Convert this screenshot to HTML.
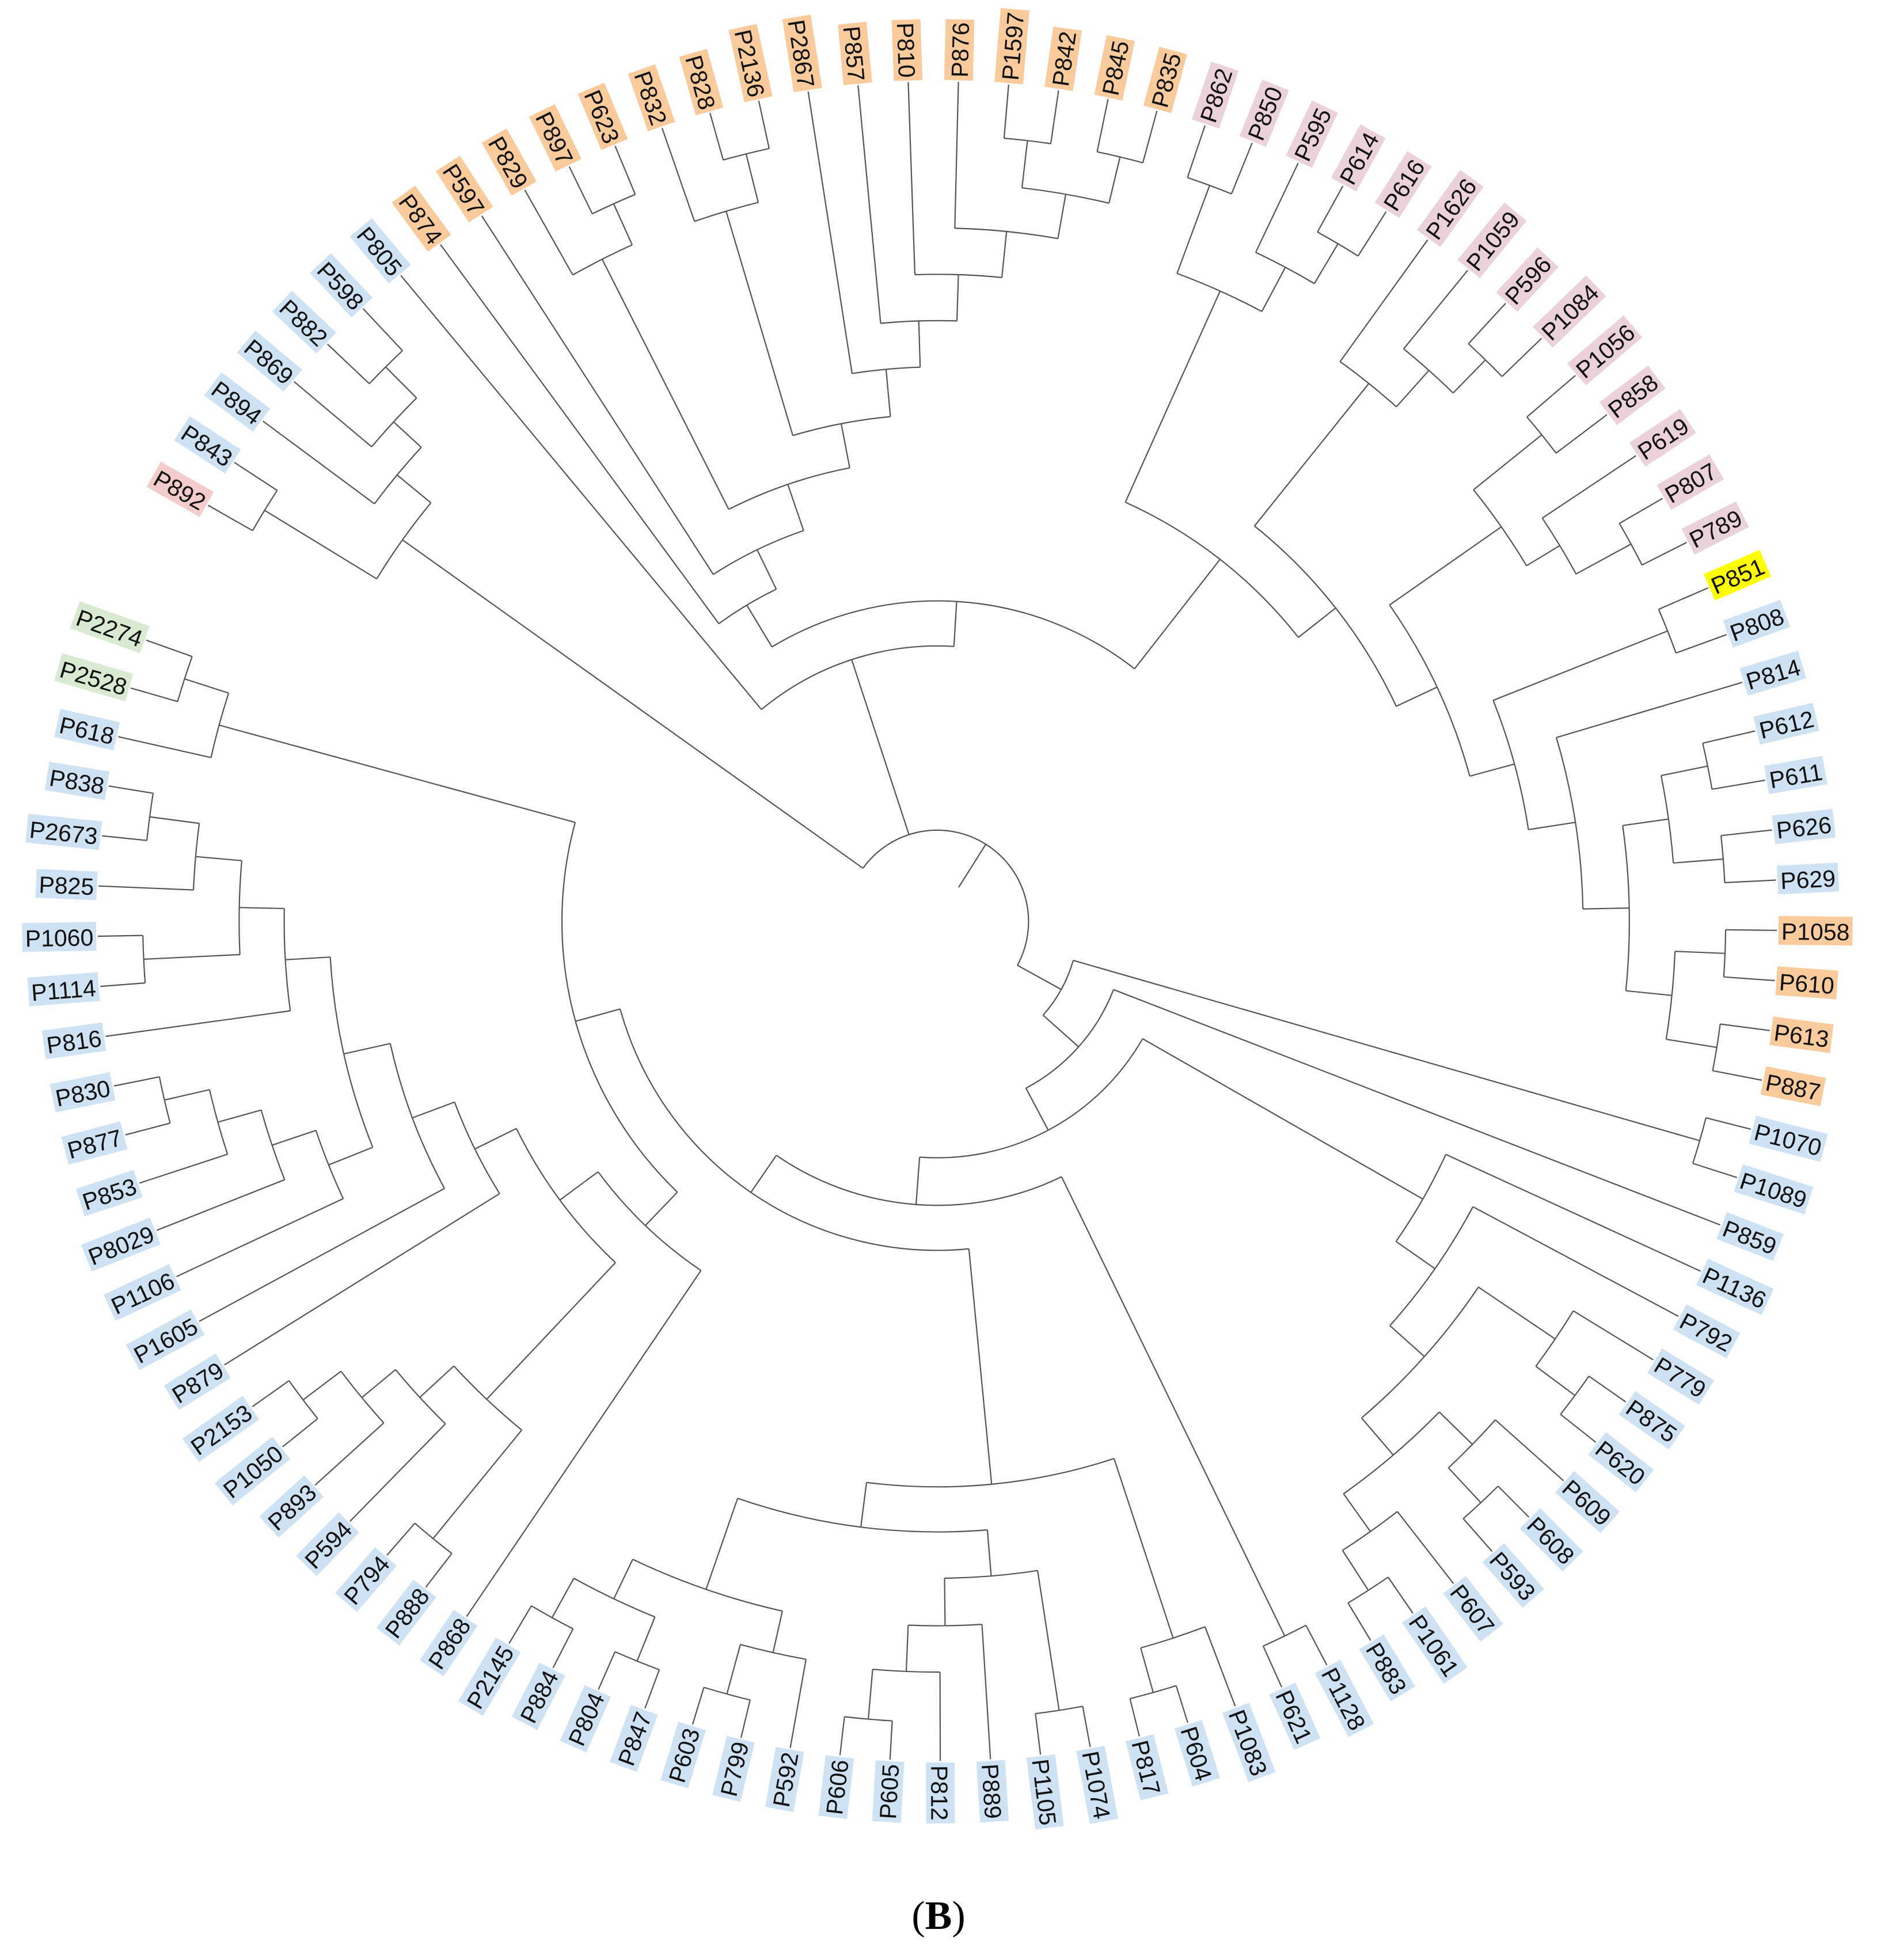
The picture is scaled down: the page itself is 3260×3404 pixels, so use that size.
<!DOCTYPE html>
<html>
<head>
<meta charset="utf-8">
<style>
  html, body { margin:0; padding:0; background:#ffffff; }
  body { width:3260px; height:3404px; overflow:hidden; }
  svg { display:block; }
  .lbl { font-family:"Liberation Sans", sans-serif; font-size:41px; fill:#111; }
  .cap { font-family:"Liberation Serif", serif; font-size:70px; fill:#000; }
</style>
</head>
<body>
<svg id="chart" width="3260" height="3404" viewBox="0 0 3260 3404" xmlns="http://www.w3.org/2000/svg">
  <rect x="0" y="0" width="3260" height="3404" fill="#ffffff"></rect>
  <g id="branches"></g>
  <g id="labels"></g>
  <text class="cap" x="1630" y="3350" text-anchor="middle">(<tspan font-weight="bold">B</tspan>)</text>
</svg>
<script>
// ---- data ----
const leafNames = ["P892","P843","P894","P869","P882","P598","P805","P874","P597","P829","P897","P623","P832","P828","P2136","P2867","P857","P810","P876","P1597","P842","P845","P835","P862","P850","P595","P614","P616","P1626","P1059","P596","P1084","P1056","P858","P619","P807","P789","P851","P808","P814","P612","P611","P626","P629","P1058","P610","P613","P887","P1070","P1089","P859","P1136","P792","P779","P875","P620","P609","P608","P593","P607","P1061","P883","P1128","P621","P1083","P604","P817","P1074","P1105","P889","P812","P605","P606","P592","P799","P603","P847","P804","P884","P2145","P868","P888","P794","P594","P893","P1050","P2153","P879","P1605","P1106","P8029","P853","P877","P830","P816","P1114","P1060","P825","P2673","P838","P618","P2528","P2274"];
const orangeLeaves = ["P874","P597","P829","P897","P623","P832","P828","P2136","P2867","P857","P810","P876","P1597","P842","P845","P835","P1058","P610","P613","P887"];
const pinkLeaves = ["P862","P850","P595","P614","P616","P1626","P1059","P596","P1084","P1056","P858","P619","P807","P789"];
const greenLeaves = ["P2274","P2528"];
const redLeaves = ["P892"];
const yellowLeaves = ["P851"];
// internal node: T(height in display units, children...)
function T(r) { return { r: r, c: Array.prototype.slice.call(arguments, 1) }; }

const g1 = T(525, T(630,"P892","P843"), T(560,"P894", T(590,"P869", T(625,"P882","P598"))));
const o9 = T(590, T(628,"P1597","P842"), T(628,"P845","P835"));
const o4 = T(405, T(592,"P832", T(632,"P828","P2136")), T(443,"P2867", T(480,"P857", T(517,"P810", T(554,"P876", o9)))));
const orange = T(295,"P874", T(330,"P597", T(369, T(593,"P829", T(629,"P897","P623")), o4)));
const bo = T(478, T(628,"P851","P808"), T(516,"P814", T(553, T(590, T(628,"P612","P611"), T(630,"P626","P629")), T(590, T(630,"P1058","P610"), T(631,"P613","P887")))));
const pr = T(405, T(551,"P1626", T(590,"P1059", T(627,"P596","P1084"))), T(441, T(550, T(620,"P1056","P858"), T(581,"P619", T(631,"P807","P789"))), bo));
const pinkA = T(367, T(552, T(627,"P862","P850"), T(592,"P595", T(629,"P614","P616"))), pr);
const nA = T(220, "P805", T(256, orange, pinkA));
const y5 = T(447,"P1136", T(485,"P792", T(522, T(596,"P779", T(635,"P875","P620")), T(561, T(598,"P609", T(636,"P608","P593")), T(598,"P607", T(636,"P1061","P883"))))));
const z0 = T(452, T(603,"P1083", T(640,"P604","P817")), T(488, T(525, T(638,"P1074","P1105"), T(563,"P889", T(600,"P812", T(640,"P605","P606")))), T(565, T(599,"P592", T(640,"P799","P603")), T(600, T(638,"P847","P804"), T(636,"P884","P2145")))));
const l8 = T(524,"P1106", T(561,"P8029", T(597,"P853", T(634,"P877","P830"))));
const l12 = T(522,"P816", T(558, T(635,"P1114","P1060"), T(595,"P825", T(635,"P2673","P838"))));
const m1 = T(525, T(637,"P888","P794"), T(562,"P594", T(597,"P893", T(635,"P1050","P2153"))));
const l3 = T(337,"P868", T(375, m1, T(412,"P879", T(448,"P1605", T(486, l8, l12)))));
const l1 = T(300, l3, T(595,"P618", T(632,"P2528","P2274")));
const xClade = T(113, T(634,"P1070","P1089"), T(151,"P859", T(189, y5, T(227, T(635,"P1128","P621"), T(263, z0, l1)))));
const tree = T(73, g1, nA, xClade);
const rootStubInner = 32;
const leafRadius = 671;

// ---- geometry ----
const CX = 1628, CY = 1600, S = 2.1733;
const startAngle = 299.7, stepAngle = 3.43;
const svgNS = "http://www.w3.org/2000/svg";
const gB = document.getElementById("branches");
const gL = document.getElementById("labels");
function angleOf(i){ return startAngle + i * stepAngle; }
function pt(r, a){ const t = a * Math.PI / 180; return [CX + r*S*Math.sin(t), CY - r*S*Math.cos(t)]; }
function line(r1, r2, a, name){
  const p = pt(r1,a), q = pt(r2,a);
  const el = document.createElementNS(svgNS, "line");
  el.setAttribute("x1", p[0].toFixed(1)); el.setAttribute("y1", p[1].toFixed(1));
  el.setAttribute("x2", q[0].toFixed(1)); el.setAttribute("y2", q[1].toFixed(1));
  el.setAttribute("stroke", "#555"); el.setAttribute("stroke-width", "2.2");
  
  
  gB.appendChild(el);
}
function arc(r, a1, a2){
  const p = pt(r,a1), q = pt(r,a2);
  const large = (a2 - a1) > 180 ? 1 : 0;
  const el = document.createElementNS(svgNS, "path");
  el.setAttribute("d", "M"+p[0].toFixed(1)+" "+p[1].toFixed(1)+" A"+(r*S).toFixed(1)+" "+(r*S).toFixed(1)+" 0 "+large+" 1 "+q[0].toFixed(1)+" "+q[1].toFixed(1));
  el.setAttribute("fill", "none"); el.setAttribute("stroke", "#555"); el.setAttribute("stroke-width", "2.2");
  
  
  gB.appendChild(el);
}
function layout(node){
  if (typeof node === "string") { return angleOf(leafNames.indexOf(node)); }
  const angs = node.c.map(layout);
  node.angles = angs;
  node.a = (angs[0] + angs[angs.length-1]) / 2;
  return node.a;
}
function draw(node){
  arc(node.r, node.angles[0], node.angles[node.angles.length-1]);
  node.c.forEach(function(ch, k){
    if (typeof ch === "string") {
      line(node.r, leafRadius, node.angles[k], "leaf-branch");
    } else {
      line(node.r, ch.r, ch.a, "internal-branch");
      draw(ch);
    }
  });
}
layout(tree);
draw(tree);
line(rootStubInner, tree.r, tree.a, "root-stub");

function colorOf(n){
  if (orangeLeaves.indexOf(n) >= 0) return "#f9cb9c";
  if (pinkLeaves.indexOf(n) >= 0) return "#ead1dc";
  if (greenLeaves.indexOf(n) >= 0) return "#d9ead3";
  if (redLeaves.indexOf(n) >= 0) return "#f4cccc";
  if (yellowLeaves.indexOf(n) >= 0) return "#ffff00";
  return "#cfe2f3";
}
const R0 = 1461, PAD = 5, BOXH = 50;
leafNames.forEach(function(n, i){
  const a = angleOf(i);
  const am = ((a % 360) + 360) % 360;
  const flip = am >= 180;
  const g = document.createElementNS(svgNS, "g");
  g.setAttribute("transform", "translate("+CX+","+CY+") rotate("+(flip ? a+90 : a-90).toFixed(2)+")");
  
  
  const rect = document.createElementNS(svgNS, "rect");
  rect.setAttribute("fill", colorOf(n));
  
  
  const t = document.createElementNS(svgNS, "text");
  t.setAttribute("class", "lbl");
  t.setAttribute("dominant-baseline", "central");
  
  
  t.textContent = n;
  g.appendChild(rect); g.appendChild(t); gL.appendChild(g);
  let w = 0;
  try { w = t.getComputedTextLength(); } catch(e) { w = 0; }
  if (!w) w = n.length * 23;
  const bw = w + 2*PAD;
  if (!flip) {
    t.setAttribute("x", R0 + PAD); t.setAttribute("text-anchor", "start");
    rect.setAttribute("x", R0);
  } else {
    t.setAttribute("x", -(R0 + PAD)); t.setAttribute("text-anchor", "end");
    rect.setAttribute("x", -(R0 + bw));
  }
  t.setAttribute("y", 2);
  rect.setAttribute("y", -BOXH/2); rect.setAttribute("width", bw.toFixed(1)); rect.setAttribute("height", BOXH);
});
</script>
</body>
</html>
